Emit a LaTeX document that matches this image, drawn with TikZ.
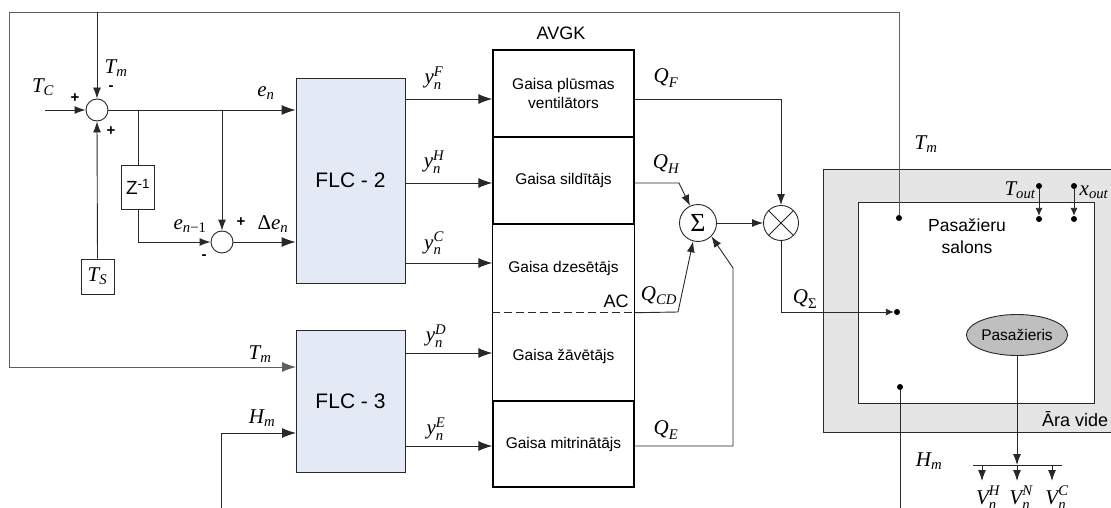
\documentclass[tikz,border=0pt]{standalone}
\usepackage{amsmath}
\usepackage{fontspec}
\setmainfont{Liberation Sans}
\newfontfamily\tms{Liberation Serif}
\newcommand\ti[1]{\text{\tms\itshape #1}}
\usetikzlibrary{arrows.meta,shapes.geometric}
\definecolor{flcblue}{RGB}{228,234,245}
\definecolor{lnc}{RGB}{40,40,40}
\definecolor{topc}{RGB}{95,95,95}
\begin{document}
\begin{tikzpicture}[x=1pt,y=-1pt,
 ln/.style={draw=lnc, line width=0.9pt},
 arr/.style={ln, -{Latex[length=11pt,width=8pt]}},
 barr/.style={ln, -{Latex[length=14pt,width=10pt]}},
 sarr/.style={ln, -{Latex[length=8pt,width=7pt]}},
 sumc/.style={circle, draw=lnc, line width=0.9pt, inner sep=0, minimum size=22pt, fill=white},
 fbox/.style={draw=lnc, line width=0.9pt, fill=flcblue, inner sep=0, font=\fontsize{21}{23}\selectfont},
 abox/.style={line width=1.4pt, minimum width=141pt, inner sep=0, align=center, font=\fontsize{15.5}{19}\selectfont},
 dotn/.style={circle, fill=black, inner sep=0, minimum size=6pt},
 ml/.style={inner sep=0, font=\fontsize{21}{23}\selectfont},
 pm/.style={inner sep=0, font=\fontsize{15}{15}\selectfont\bfseries},
 sbox/.style={draw=lnc, line width=0.9pt, inner sep=0, fill=white}
]
\useasboundingbox (0,0) rectangle (1111,508);

% environment and cabin
\node[draw=lnc, line width=0.9pt, fill=gray!20, minimum width=302pt, minimum height=263pt, inner sep=0] (env) at (974,300.5) {};
\node[draw=lnc, line width=0.9pt, fill=white, minimum width=236pt, minimum height=201pt, inner sep=0] (cab) at (976,302.5) {};
\node[anchor=base west, font=\fontsize{18}{18}\selectfont, inner sep=0] (ara) at (1042,426) {Āra vide};
\node[align=center, font=\fontsize{17.5}{21.5}\selectfont, inner sep=0] (cabl) at (967,236) {Pasažieru\\salons};

% junctions and blocks
\node[sumc] (s1) at (97,110) {};
\node[sumc] (s2) at (222,242) {};
\node[sbox, minimum width=33pt, minimum height=44pt, font=\fontsize{19}{19}\selectfont] (z) at (138,187) {Z\textsuperscript{-1}};
\node[sbox, minimum width=33pt, minimum height=35pt, font=\fontsize{21}{21}\selectfont] (ts) at (97.5,276.5) {$\ti{T}_{\ti{S}}$};
\node[fbox, minimum width=109pt, minimum height=205pt] (f2) at (350.5,180.5) {FLC - 2};
\node[fbox, minimum width=109pt, minimum height=142pt] (f3) at (350.5,401) {FLC - 3};

% AVGK
\node[font=\fontsize{18}{18}\selectfont, inner sep=0] (avgk) at (561,33) {AVGK};
\node[abox, draw=black, minimum height=87pt] (af) at (563.5,93.5) {Gaisa plūsmas\\ventilātors};
\node[abox, draw=black, minimum height=87pt] (ah) at (563.5,180.5) {Gaisa sildītājs};
\node[abox, minimum height=88pt] (ac) at (563.5,268) {Gaisa dzesētājs};
\node[abox, minimum height=89pt] (ad) at (563.5,356.5) {Gaisa žāvētājs};
\node[abox, draw=black, minimum height=86pt] (ae) at (563.5,444) {Gaisa mitrinātājs};
\draw[black, line width=1.4pt] (ac.north west) rectangle (ad.south east);
\draw[lnc, line width=0.9pt, dash pattern=on 8pt off 4pt] (ac.south west) -- (ac.south east);
\node[font=\fontsize{18}{18}\selectfont, inner sep=0] (acl) at (616,301) {AC};

% sigma and product
\node[sumc, minimum size=37pt, font=\fontsize{26}{26}\selectfont\tms] (sg) at (698,223) {Σ};
\node[sumc, minimum size=35pt] (cx) at (781,223) {};
\draw[ln] (cx.45) -- (cx.225) (cx.135) -- (cx.315);

% dots
\node[dotn] (dT) at (899,218) {};
\node[dotn] (dQ) at (897,312) {};
\node[dotn] (dH) at (900,387) {};
\node[dotn] (to1) at (1039,186) {};
\node[dotn] (to2) at (1039,219) {};
\node[dotn] (xo1) at (1074,186) {};
\node[dotn] (xo2) at (1074,219) {};

% passenger
\node[ellipse, draw=lnc, line width=0.9pt, fill=gray!50, minimum width=91pt, minimum height=41pt, inner sep=0, font=\fontsize{15.5}{16}\selectfont] (pas) at (1017,335) {Pasažieris};
\coordinate (bl) at (973,465);
\coordinate (br) at (1062,465);
\coordinate (vH) at (982,481);
\coordinate (vN) at (1017,481);
\coordinate (vC) at (1052,481);

% coordinates
\coordinate (tl) at (9,12);
\coordinate (tp) at (97,12);
\coordinate (tc) at (45,110);
\coordinate (t3) at (296,367);
\coordinate (h3) at (296,433);
\coordinate (hb) at (221,508);
\coordinate (yF) at (0,99);
\coordinate (yH) at (0,183);
\coordinate (yC) at (0,263);
\coordinate (yD) at (0,353);
\coordinate (yE) at (0,446);
\coordinate (qh) at (679,183);
\coordinate (qc) at (678,312);
\coordinate (qe1) at (733,446);
\coordinate (qe2) at (733,268);
\coordinate (hbot) at (900,508);

% feedback loop
\draw[barr, draw=topc] (dT) |- (tl) |- (t3);
\draw[arr] (tp) -- (s1.north);
\draw[arr] (tc) -- (s1.west);
\draw[arr] (ts.north) -- (s1.south);
\draw[barr] (s1.east) -- (s1.east -| f2.west);
\draw[ln] (s1.east -| z.north) -- (z.north);
\draw[arr] (z.south) |- (s2.west);
\draw[arr] (s1.east -| s2.north) -- (s2.north);
\draw[barr] (s2.east) -- (s2.east -| f2.west);
\draw[barr] (hb) |- (h3);

% controller outputs
\draw[barr] (f2.east |- yF) -- (af.west |- yF);
\draw[barr] (f2.east |- yH) -- (ah.west |- yH);
\draw[barr] (f2.east |- yC) -- (ac.west |- yC);
\draw[barr] (f3.east |- yD) -- (ad.west |- yD);
\draw[barr] (f3.east |- yE) -- (ae.west |- yE);

% heat flows
\draw[arr] (af.east |- yF) -| (cx.north);
\draw[arr] (ah.east |- yH) -- (qh) -- (sg.115);
\draw[arr] (ac.south east) -- (qc) -- (sg.255);
\draw[arr] (ae.east |- yE) -- (qe1) -- (qe2) -- (sg.-45);
\draw[arr] (sg.east) -- (cx.west);
\draw[sarr] (cx.south) |- (dQ.west);
\draw[ln] (dH) -- (hbot);
\draw[sarr] (to1) -- (to2.north);
\draw[sarr] (xo1) -- (xo2.north);
\draw[arr] (pas.south) -- (pas.south |- bl);
\draw[ln] (bl) -- (br);
\draw[arr] (vH |- bl) -- (vH);
\draw[arr] (vN |- bl) -- (vN);
\draw[arr] (vC |- bl) -- (vC);

% labels
\node[ml] (lTC) at (43,87) {$\ti{T}_{\ti{C}}$};
\node[pm] (p1) at (75,98) {+};
\node[ml] (lTm1) at (116,68) {$\ti{T}_{\ti{m}}$};
\node[pm] (m1) at (111,88) {-};
\node[pm] (p2) at (111,131) {+};
\node[ml] (len) at (266,93) {$\ti{e}_{\ti{n}}$};
\node[ml] (lenm) at (190,226) {$\ti{e}_{\ti{n}\text{\tms −1}}$};
\node[pm] (p3) at (241,222) {+};
\node[ml] (lden) at (273,224) {$\text{\tms Δ}\ti{e}_{\ti{n}}$};
\node[pm] (m2) at (204,257) {-};
\node[ml] (lTm2) at (260,354) {$\ti{T}_{\ti{m}}$};
\node[ml] (lHm1) at (262,418) {$\ti{H}_{\ti{m}}$};
\node[ml] (lyF) at (434,78) {$\ti{y}_{\ti{n}}^{\ti{F}}$};
\node[ml] (lyH) at (434,162) {$\ti{y}_{\ti{n}}^{\ti{H}}$};
\node[ml] (lyC) at (434,243) {$\ti{y}_{\ti{n}}^{\ti{C}}$};
\node[ml] (lyD) at (436,336) {$\ti{y}_{\ti{n}}^{\ti{D}}$};
\node[ml] (lyE) at (436,429) {$\ti{y}_{\ti{n}}^{\ti{E}}$};
\node[ml] (lQF) at (666,78) {$\ti{Q}_{\ti{F}}$};
\node[ml] (lQH) at (666,164) {$\ti{Q}_{\ti{H}}$};
\node[ml] (lQCD) at (659,296) {$\ti{Q}_{\ti{CD}}$};
\node[ml] (lQE) at (666,430) {$\ti{Q}_{\ti{E}}$};
\node[ml] (lQS) at (805,299) {$\ti{Q}_{\text{\tms Σ}}$};
\node[ml] (lTm3) at (926,144) {$\ti{T}_{\ti{m}}$};
\node[ml] (lTo) at (1020,190) {$\ti{T}_{\ti{out}}$};
\node[ml] (lxo) at (1094,192) {$\ti{x}_{\ti{out}}$};
\node[ml] (lHm2) at (929,461) {$\ti{H}_{\ti{m}}$};
\node[ml, anchor=base] (lVH) at (988,504) {$\ti{V}_{\ti{n}}^{\ti{H}}$};
\node[ml, anchor=base] (lVN) at (1021,504) {$\ti{V}_{\ti{n}}^{\ti{N}}$};
\node[ml, anchor=base] (lVC) at (1057,504) {$\ti{V}_{\ti{n}}^{\ti{C}}$};
\end{tikzpicture}
\end{document}
